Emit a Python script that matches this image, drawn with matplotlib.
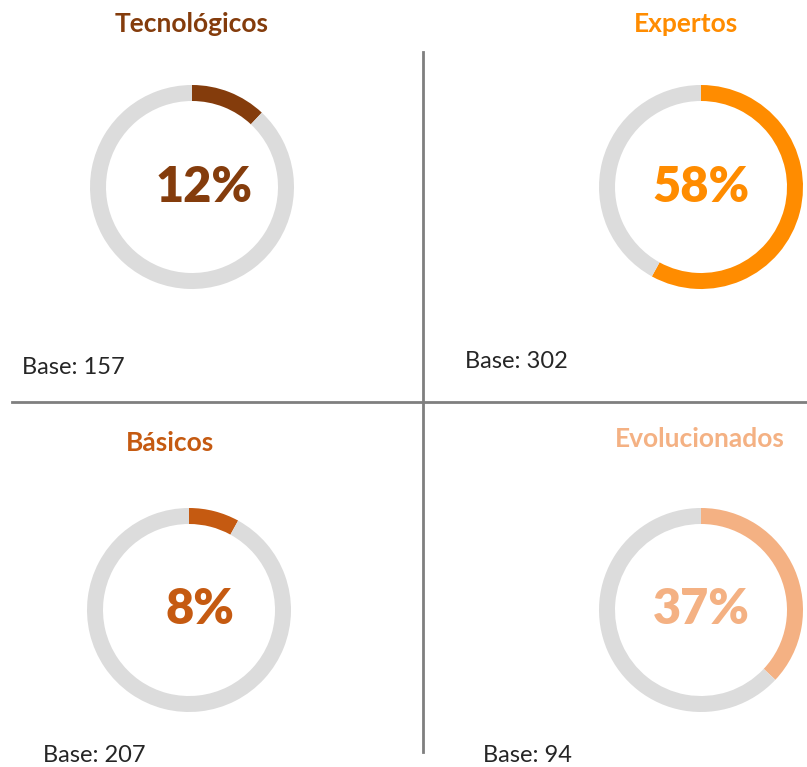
import matplotlib
matplotlib.use("Agg")
import matplotlib.pyplot as plt

# data
segments = ["Tecnológicos", "Expertos", "Básicos", "Evolucionados"]
shares = [12, 58, 8, 37]
bases = [157, 302, 207, 94]
colors = ["#843C0C", "#FF8C00", "#C55A11", "#F4B183"]
rest_color = "#DCDCDC"

W, H = 807, 767
plt.rcParams["font.family"] = ["Lato", "DejaVu Sans"]

fig = plt.figure(figsize=(W / 100, H / 100), dpi=100)

# overlay axes in pixel coordinates for lines and text
bg = fig.add_axes([0, 0, 1, 1])
bg.set_xlim(0, W)
bg.set_ylim(H, 0)
bg.axis("off")

# panel layout (pixels): donut center, title pos, percent pos, base pos
centers = [(192, 187), (701, 187), (189, 610), (701, 610)]
title_pos = [(192, 24), (686, 24), (170, 443), (700, 439)]
pct_pos = [(204, 188), (701, 188), (200, 610), (701, 610)]
base_pos = [(22, 368), (465, 361), (43, 755), (483, 755)]
r = 102
ring = 16

for i, seg in enumerate(segments):
    cx, cy = centers[i]
    ax = fig.add_axes([(cx - r) / W, (H - cy - r) / H, 2 * r / W, 2 * r / H])
    ax.pie([shares[i], 100 - shares[i]], colors=[colors[i], rest_color],
           startangle=90, counterclock=False, radius=1,
           wedgeprops=dict(width=ring / r, linewidth=0))
    ax.set_xlim(-1, 1)
    ax.set_ylim(-1, 1)
    ax.axis("off")

    tx, ty = title_pos[i]
    bg.text(tx, ty, seg, color=colors[i], fontsize=19, fontweight="bold",
            ha="center", va="center")
    px, py = pct_pos[i]
    bg.text(px, py, f"{shares[i]}%", color=colors[i], fontsize=35, fontweight="heavy",
            ha="center", va="center")
    bx, by = base_pos[i]
    bg.text(bx, by, f"Base: {bases[i]}", color="#262626", fontsize=17,
            ha="left", va="center")

# divider lines
bg.plot([12, W], [402, 402], color="#7F7F7F", lw=2)
bg.plot([423, 423], [52, 752], color="#7F7F7F", lw=2)

fig.savefig("out.png", dpi=100)
